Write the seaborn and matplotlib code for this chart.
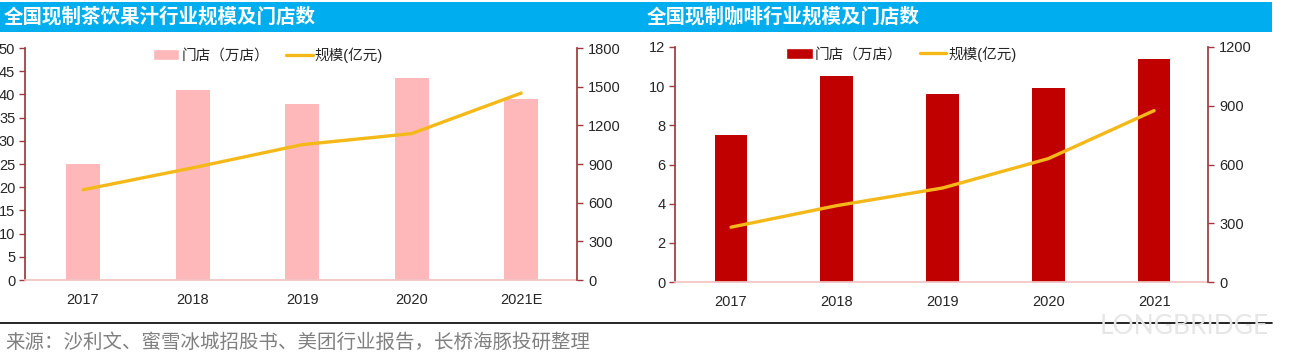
import matplotlib
matplotlib.use("Agg")
import matplotlib.pyplot as plt
import seaborn as sns
import pandas as pd
from matplotlib.patches import Rectangle, Patch
from matplotlib.lines import Line2D

# data
tea_years = ["2017", "2018", "2019", "2020", "2021E"]
tea_stores = [25, 41, 38, 43.5, 39]          # 门店（万店）
tea_scale = [700, 870, 1050, 1136, 1450]     # 规模(亿元)

coffee_years = ["2017", "2018", "2019", "2020", "2021"]
coffee_stores = [7.5, 10.5, 9.6, 9.9, 11.4]
coffee_scale = [280, 390, 480, 630, 875]

tea_title = "全国现制茶饮果汁行业规模及门店数"
coffee_title = "全国现制咖啡行业规模及门店数"
bar_label = "门店（万店）"
line_label = "规模(亿元)"
source_text = "来源：沙利文、蜜雪冰城招股书、美团行业报告，长桥海豚投研整理"

W, H = 1299, 358
maroon = "#A0393F"
gold = "#F4B919"
blue = "#00AEEF"

sns.set_theme(style="white")
plt.rcParams["font.family"] = ["Liberation Sans", "Noto Sans CJK SC"]

fig = plt.figure(figsize=(W / 100, H / 100), dpi=100)


def px_axes(x0, x1, ytop, ybot):
    return fig.add_axes([x0 / W, 1 - ybot / H, (x1 - x0) / W, (ybot - ytop) / H])


def draw_panel(ax, years, stores, scale, bar_color, lmax, lstep, rmax, rstep, leg_x):
    df = pd.DataFrame({"year": years, "stores": stores, "scale": scale})
    sns.barplot(data=df, x="year", y="stores", color=bar_color, saturation=1,
                width=0.31, linewidth=0, ax=ax)
    ax2 = ax.twinx()
    sns.lineplot(x=df.index, y=df["scale"], color=gold, lw=2.4, ax=ax2)

    ax.set_xlim(-0.53, len(years) - 0.49)
    ax.set_ylim(0, lmax)
    ax.set_yticks(range(0, lmax + 1, lstep))
    ax2.set_ylim(0, rmax)
    ax2.set_yticks(range(0, rmax + 1, rstep))
    ax.set_xlabel("")
    ax.set_ylabel("")
    ax2.set_ylabel("")

    for s in ["top", "right"]:
        ax.spines[s].set_visible(False)
    for s in ["top", "left", "bottom"]:
        ax2.spines[s].set_visible(False)
    ax.spines["left"].set_color(maroon)
    ax.spines["bottom"].set_color("#F2C4C4")
    ax2.spines["right"].set_color(maroon)

    ax.tick_params(axis="y", length=4, width=1, color=maroon, pad=3,
                   labelsize=10.5, labelcolor="#262626", left=True)
    ax2.tick_params(axis="y", length=4, width=1, color=maroon, pad=4,
                    labelsize=10.5, labelcolor="#262626", right=True)
    ax.tick_params(axis="x", length=0, pad=9, labelsize=10.5, labelcolor="#262626")

    handles = [Patch(facecolor=bar_color), Line2D([], [], color=gold, lw=2.4)]
    ax2.legend(handles, [bar_label, line_label], loc="upper center",
               bbox_to_anchor=(leg_x, 1.06), ncol=2, frameon=False,
               fontsize=10.5, handlelength=1.8, handletextpad=0.15,
               columnspacing=1.2)


ax_tea = px_axes(25, 577, 48, 280)
draw_panel(ax_tea, tea_years, tea_stores, tea_scale, "#FFB8BA", 50, 5, 1800, 300, 0.44)

ax_cof = px_axes(675, 1208, 47, 282)
draw_panel(ax_cof, coffee_years, coffee_stores, coffee_scale, "#C00000", 12, 2, 1200, 300, 0.425)

# title bar
fig.add_artist(Rectangle((0, 1 - 32 / H), 1272 / W, 30 / H,
                         transform=fig.transFigure, color=blue, lw=0))
fig.text(4 / W, 1 - 17 / H, tea_title, color="white", fontsize=14,
         fontweight="bold", va="center", family=["Noto Sans CJK SC"])
fig.text(647 / W, 1 - 17 / H, coffee_title, color="white", fontsize=14,
         fontweight="bold", va="center", family=["Noto Sans CJK SC"])

# footer
fig.add_artist(Line2D([0, 1272 / W], [1 - 323 / H] * 2,
                      transform=fig.transFigure, color="black", lw=1.2))
fig.text(1100 / W, 1 - 326 / H, "LONGBRIDGE", color="#E6E6E6", fontsize=19,
         va="center", family=["Lato", "DejaVu Sans"])
fig.text(5 / W, 1 - 342 / H, source_text, color="#808080", fontsize=14,
         va="center", family=["Noto Sans CJK SC"])

fig.savefig("out.png", dpi=100)
